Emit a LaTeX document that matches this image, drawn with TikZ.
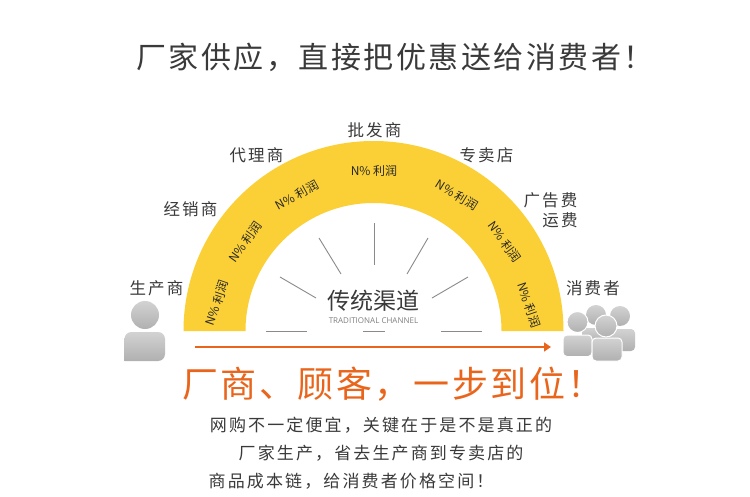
\documentclass[tikz,border=0pt]{standalone}
\usepackage{fontspec}
\usetikzlibrary{arrows.meta}
\setmainfont{Noto Sans CJK SC}
\setsansfont{Open Sans}
\definecolor{ygold}{HTML}{FBD037}
\definecolor{orng}{HTML}{E9651C}
\definecolor{ink}{HTML}{3A3A3A}
\definecolor{spoke}{HTML}{8A8A8A}
\tikzset{
  x=1pt,y=-1pt,
  titletext/.style={font=\fontsize{30}{32}\selectfont\addfontfeature{LetterSpace=8.3},text=ink,inner sep=0},
  headtext/.style={font=\fontsize{36}{38}\selectfont\addfontfeature{LetterSpace=7},text=orng,inner sep=0},
  bodytext/.style={font=\fontsize{17}{19}\selectfont\addfontfeature{LetterSpace=12.5},text=ink,inner sep=0},
  stagetext/.style={font=\fontsize{16.5}{18}\selectfont\addfontfeature{LetterSpace=13},text=ink,inner sep=0},
  profit/.style={font=\fontsize{12}{13}\selectfont,text=black!85,inner sep=0},
  spokeline/.style={draw=spoke,line width=0.9pt},
  person/.style={top color=gray!35,bottom color=gray!62,draw=none},
  personw/.style={top color=gray!35,bottom color=gray!62,draw=white,line width=1pt},
}
\begin{document}
\begin{tikzpicture}
\useasboundingbox[fill=white] (0,0) rectangle (750,497);
% arch
\fill[ygold] (183.5,331) arc[start angle=180,end angle=360,radius=190] -- (501.5,331) arc[start angle=360,end angle=180,radius=128] -- cycle;
% title
\node[titletext] (title) at (395,57) {厂家供应，直接把优惠送给消费者！};
% stage labels
\node[stagetext] (s1) at (156.5,288) {生产商};
\node[stagetext] (s2) at (190.5,209) {经销商};
\node[stagetext] (s3) at (256.5,155) {代理商};
\node[stagetext] (s4) at (374.5,130) {批发商};
\node[stagetext] (s5) at (486.5,155) {专卖店};
\node[stagetext] (s6) at (550.5,200) {广告费};
\node[stagetext] (s7) at (560,220) {运费};
\node[stagetext] (s8) at (593,288) {消费者};
% profit labels
\node[profit,rotate=71] (p1) at (217,303) {N\% 利润};
\node[profit,rotate=54] (p2) at (245,242) {N\% 利润};
\node[profit,rotate=29] (p3) at (297,195) {N\% 利润};
\node[profit] (p4) at (374,171) {N\% 利润};
\node[profit,rotate=-32] (p5) at (457,195) {N\% 利润};
\node[profit,rotate=-54] (p6) at (505,242) {N\% 利润};
\node[profit,rotate=-71] (p7) at (529,305) {N\% 利润};
% centre
\node[inner sep=0,text=ink,font=\fontsize{23}{25}\selectfont] (chan) at (373,301) {传统渠道};
\node[inner sep=0,text=gray,font=\sffamily\fontsize{8}{9}\selectfont] (chanen) at (373.5,321) {TRADITIONAL CHANNEL};
% spokes
\coordinate (a1) at (280,277); \coordinate (a2) at (316,298);
\coordinate (b1) at (319,238); \coordinate (b2) at (341,274);
\coordinate (c1) at (374,223); \coordinate (c2) at (374,265);
\coordinate (d1) at (428,238); \coordinate (d2) at (407,274);
\coordinate (e1) at (468,277); \coordinate (e2) at (432,298);
\coordinate (f1) at (266,331); \coordinate (f2) at (307,331);
\coordinate (g1) at (363,331); \coordinate (g2) at (385,331);
\coordinate (h1) at (441,331); \coordinate (h2) at (482,331);
\draw[spokeline] (a1)--(a2);
\draw[spokeline] (b1)--(b2);
\draw[spokeline] (c1)--(c2);
\draw[spokeline] (d1)--(d2);
\draw[spokeline] (e1)--(e2);
\draw[spokeline] (f1)--(f2);
\draw[spokeline] (g1)--(g2);
\draw[spokeline] (h1)--(h2);
% arrow
\coordinate (ar1) at (195,347); \coordinate (ar2) at (551,347);
\draw[orng,line width=1.6pt,-{Triangle[length=7pt,width=9pt]}] (ar1)--(ar2);
% producer
\shade[person] (145,315) circle[radius=14];
\shade[person,rounded corners=7pt] (124.5,361) -- (124.5,332) -- (165,332) -- (165,361) [sharp corners] -- cycle;
% consumers (back to front)
\shade[person] (596,315) circle[radius=10];
\shade[person] (620,316) circle[radius=10];
\shade[person,rounded corners=4pt] (582,342) -- (582,328) -- (610,328) -- (610,342) -- cycle;
\shade[person,rounded corners=4pt] (610,351) -- (610,329) -- (635,329) -- (635,351) -- cycle;
\shade[personw] (577.5,322) circle[radius=10.5];
\shade[personw,rounded corners=4pt] (563,356.5) -- (563,335) -- (592,335) -- (592,356.5) -- cycle;
\shade[personw] (606,326) circle[radius=11];
\shade[personw,rounded corners=4pt] (592,361) -- (592,338) -- (622,338) -- (622,361) -- cycle;
% orange heading
\node[headtext] (head) at (393,384) {厂商、顾客，一步到位！};
% body
\node[bodytext] (l1) at (381,425) {网购不一定便宜，关键在于是不是真正的};
\node[bodytext] (l2) at (381,453) {厂家生产，省去生产商到专卖店的};
\node[bodytext] (l3) at (351,481) {商品成本链，给消费者价格空间！};
\end{tikzpicture}
\end{document}
